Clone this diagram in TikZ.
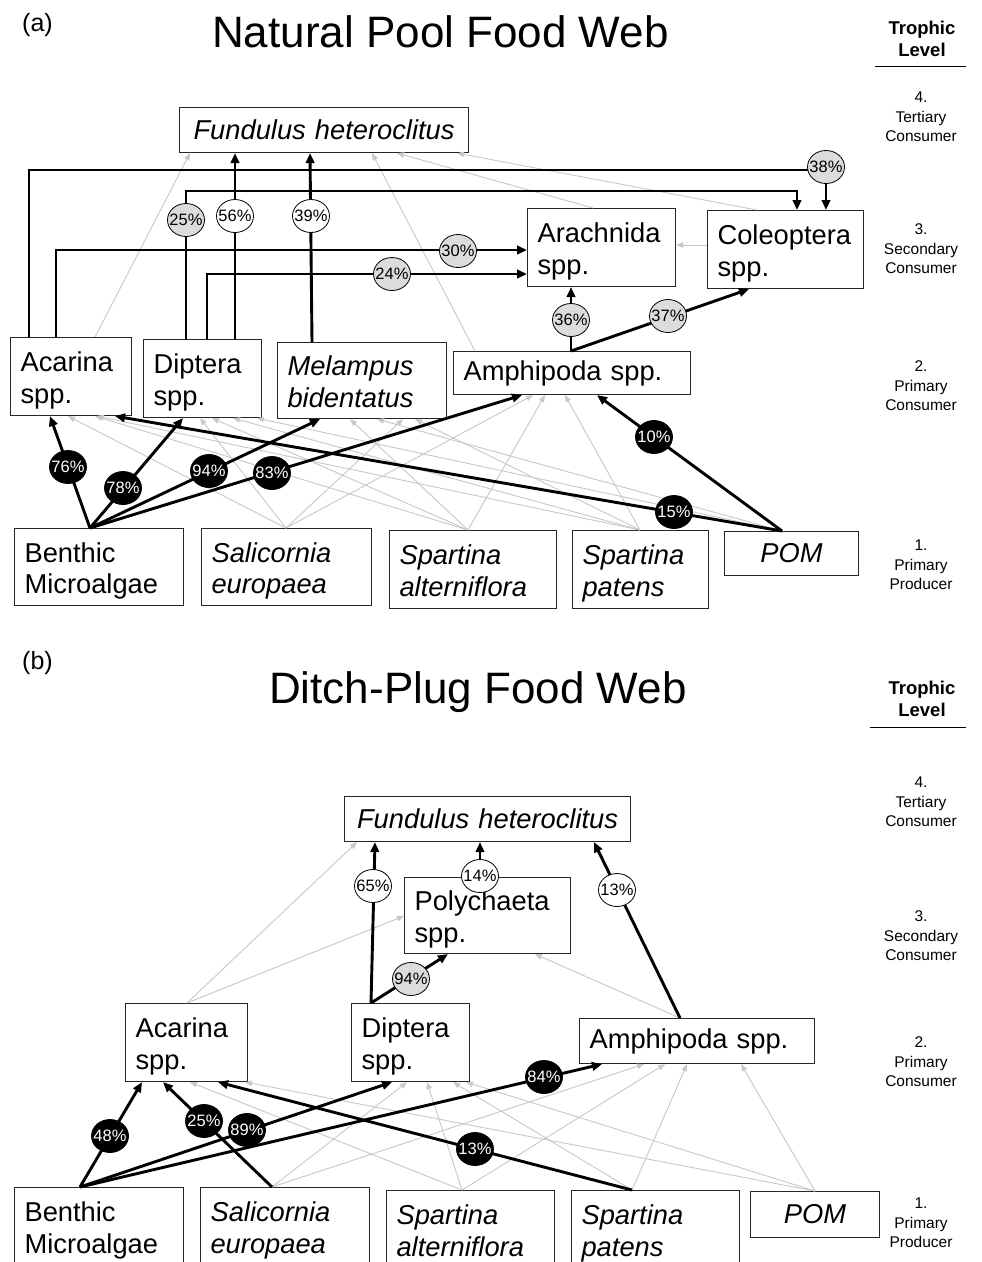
\documentclass[tikz,border=0pt]{standalone}
\usepackage{fontspec}
\setmainfont{Liberation Sans}
\usetikzlibrary{arrows.meta,shapes.geometric}
\definecolor{lgray}{HTML}{C8C8C8}
\definecolor{pctgray}{HTML}{DCDCDC}
\newcommand\fBox{\fontsize{27.3}{31.5}\selectfont}
\newcommand\fPct{\fontsize{16.5}{18}\selectfont}
\newcommand\fTitle{\fontsize{44}{50}\selectfont}
\newcommand\fTag{\fontsize{25}{28}\selectfont}
\newcommand\fTL{\fontsize{15.5}{19.5}\selectfont}
\newcommand\fTLb{\fontsize{18.5}{22}\selectfont\bfseries}
\newcommand\Tup{\rule{0pt}{28pt}}
\newcommand\Tdn{\rule[-6pt]{0pt}{6pt}}
\tikzset{
  box/.style={draw=black!85, line width=1.1pt, anchor=north west, inner xsep=10pt, inner ysep=0pt, font=\fBox, align=left},
  boxc/.style={box, align=center},
  pct/.style={ellipse, draw, line width=0.8pt, inner sep=0pt, minimum width=37pt, minimum height=33pt, font=\fPct},
  pw/.style={pct, fill=white},
  pg/.style={pct, fill=pctgray},
  pb/.style={pct, fill=black, text=white},
  blk/.style={line width=2.9pt, -{Triangle[length=10pt,width=8.5pt]}},
  gry/.style={draw=lgray, line width=0.9pt, -{Triangle[length=7pt,width=5.5pt]}},
  tl/.style={font=\fTL, align=center, inner sep=0pt},
  tlh/.style={font=\fTLb, align=center, inner sep=0pt},
  ttl/.style={font=\fTitle, anchor=base west, inner sep=0pt},
  tag/.style={font=\fTag, anchor=base west, inner sep=0pt}
}
\newcommand\pc[1]{\makebox[0pt][c]{#1\%}}
\begin{document}
\begin{tikzpicture}[x=1pt,y=-1pt]
\useasboundingbox (0,0) rectangle (982,1262);
\fill[white] (0,0) rectangle (982,1262);

%================ PANEL (a) =================
\node[tag] (tagA) at (22,31) {(a)};
\node[ttl] (ttlA) at (212,47) {Natural Pool Food Web};
\node[tlh] (hA) at (922,39) {Trophic\\Level};
\coordinate (rAl) at (875,66); \coordinate (rAr) at (966,66);
\draw[line width=0.9pt] (rAl) -- (rAr);
\node[tl] (t4a) at (921,117) {4.\\Tertiary\\Consumer};
\node[tl] (t3a) at (921,249) {3.\\Secondary\\Consumer};
\node[tl] (t2a) at (921,386) {2.\\Primary\\Consumer};
\node[tl] (t1a) at (921,565) {1.\\Primary\\Producer};

% boxes
\node[boxc, minimum width=289, minimum height=45, text width=269] (fA) at (179,107) {\itshape Fundulus heteroclitus};
\node[box, minimum width=148, minimum height=78, text width=128] (arA) at (527,208) {\Tup Arachnida\\spp.\Tdn};
\node[box, minimum width=156, minimum height=78, text width=136] (coA) at (707,210) {\Tup Coleoptera\\spp.\Tdn};
\node[box, minimum width=121, minimum height=78, text width=101] (acA) at (10,337) {\Tup Acarina\\spp.\Tdn};
\node[box, minimum width=118, minimum height=78, text width=98] (diA) at (143,339) {\Tup Diptera\\spp.\Tdn};
\node[box, minimum width=169, minimum height=76, text width=149] (meA) at (277,342) {\itshape\Tup Melampus\\\itshape bidentatus\Tdn};
\node[box, minimum width=237, minimum height=43, text width=217] (amA) at (453,351) {Amphipoda spp.};
\node[box, minimum width=169, minimum height=77, text width=149] (beA) at (14,528) {\Tup Benthic\\Microalgae\Tdn};
\node[box, minimum width=170, minimum height=77, text width=150] (saA) at (201,528) {\itshape\Tup Salicornia\\\itshape europaea\Tdn};
\node[box, minimum width=167, minimum height=78, text width=147] (spA) at (389,530) {\itshape\Tup Spartina\\\itshape alterniflora\Tdn};
\node[box, minimum width=136, minimum height=78, text width=116] (ppA) at (572,530) {\itshape\Tup Spartina\\\itshape patens\Tdn};
\node[boxc, minimum width=134, minimum height=44, text width=114] (poA) at (724,531) {\itshape POM};

% gray links producers -> consumers
\draw[gry] (saA.north -| 286,0) -- (acA.south -| 68,0);
\draw[gry] (saA.north -| 286,0) -- (diA.south -| 200,0);
\draw[gry] (saA.north -| 286,0) -- (meA.south -| 403,0);
\draw[gry] (saA.north -| 286,0) -- (amA.south -| 533,0);
\draw[gry] (spA.north -| 468,0) -- (acA.south -| 95,0);
\draw[gry] (spA.north -| 468,0) -- (diA.south -| 212,0);
\draw[gry] (spA.north -| 468,0) -- (meA.south -| 350,0);
\draw[gry] (spA.north -| 468,0) -- (amA.south -| 545,0);
\draw[gry] (ppA.north -| 640,0) -- (acA.south -| 97,0);
\draw[gry] (ppA.north -| 640,0) -- (diA.south -| 233,0);
\draw[gry] (ppA.north -| 640,0) -- (meA.south -| 415,0);
\draw[gry] (ppA.north -| 640,0) -- (amA.south -| 565,0);
\draw[gry] (poA.north -| 782,0) -- (diA.south -| 257,0);
\draw[gry] (poA.north -| 782,0) -- (meA.south -| 377,0);
% gray links to top
\draw[gry] (acA.north -| 95,0) -- (fA.south -| 190,0);
\draw[gry] (amA.north -| 475,0) -- (fA.south -| 372,0);
\draw[gry] (arA.north -| 593,0) -- (fA.south -| 397,0);
\draw[gry] (coA.north -| 757,0) -- (fA.south -| 457,0);
\draw[gry] (coA.west |- 0,245) -- (arA.east |- 0,245);

% black links
\draw[blk] (acA.north -| 29,0) |- (826,170) -- (coA.north -| 826,0);
\draw[blk] (diA.north -| 186,0) |- (797,191) -- (coA.north -| 797,0);
\draw[blk] (acA.north -| 56,0) |- (arA.west |- 0,250);
\draw[blk] (diA.north -| 207,0) |- (arA.west |- 0,274);
\draw[blk] (diA.north -| 235,0) -- (fA.south -| 235,0);
\draw[blk] (meA.north -| 312,0) -- (fA.south -| 310,0);
\draw[blk] (amA.north -| 571,0) -- (arA.south -| 571,0);
\draw[blk] (amA.north -| 571,0) -- (coA.south -| 749,0);
\draw[blk] (beA.north -| 90,0) -- (acA.south -| 50,0);
\draw[blk] (beA.north -| 90,0) -- (diA.south -| 183,0);
\draw[blk] (beA.north -| 90,0) -- (meA.south -| 320,0);
\draw[blk] (beA.north -| 90,0) -- (amA.south -| 522,0);
\draw[blk] (poA.north -| 782,0) -- (acA.south -| 115,0);
\draw[blk] (poA.north -| 782,0) -- (amA.south -| 597,0);

% labels
\node[pg] (l38) at (826,167) {\pc{38}};
\node[pg] (l25) at (186,220) {\pc{25}};
\node[pw] (l56) at (235,216) {\pc{56}};
\node[pw] (l39) at (311,216) {\pc{39}};
\node[pg] (l30) at (458,251) {\pc{30}};
\node[pg] (l24) at (392,274) {\pc{24}};
\node[pg] (l36) at (571,320) {\pc{36}};
\node[pg] (l37) at (668,316) {\pc{37}};
\node[pb] (l76) at (68,467) {\pc{76}};
\node[pb] (l78) at (123,488) {\pc{78}};
\node[pb] (l94) at (209,471) {\pc{94}};
\node[pb] (l83) at (272,473) {\pc{83}};
\node[pb] (l15) at (674,512) {\pc{15}};
\node[pb] (l10) at (654,437) {\pc{10}};

%================ PANEL (b) =================
\node[tag] (tagB) at (22,669) {(b)};
\node[ttl] (ttlB) at (269,703) {Ditch-Plug Food Web};
\node[tlh] (hB) at (922,699) {Trophic\\Level};
\coordinate (rBl) at (870,727); \coordinate (rBr) at (966,727);
\draw[line width=0.9pt] (rBl) -- (rBr);
\node[tl] (t4b) at (921,802) {4.\\Tertiary\\Consumer};
\node[tl] (t3b) at (921,936) {3.\\Secondary\\Consumer};
\node[tl] (t2b) at (921,1062) {2.\\Primary\\Consumer};
\node[tl] (t1b) at (921,1223) {1.\\Primary\\Producer};

\node[boxc, minimum width=286, minimum height=45, text width=266] (fB) at (344,796) {\itshape Fundulus heteroclitus};
\node[box, minimum width=166, minimum height=76, text width=146] (plB) at (404,877) {\Tup Polychaeta\\spp.\Tdn};
\node[box, minimum width=122, minimum height=78, text width=102] (acB) at (125,1003) {\Tup Acarina\\spp.\Tdn};
\node[box, minimum width=118, minimum height=78, text width=98] (diB) at (351,1003) {\Tup Diptera\\spp.\Tdn};
\node[box, minimum width=235, minimum height=45, text width=215] (amB) at (579,1018) {Amphipoda spp.};
\node[box, minimum width=169, minimum height=78, text width=149] (beB) at (14,1187) {\Tup Benthic\\Microalgae\Tdn};
\node[box, minimum width=169, minimum height=78, text width=149] (saB) at (200,1187) {\itshape\Tup Salicornia\\\itshape europaea\Tdn};
\node[box, minimum width=168, minimum height=78, text width=148] (spB) at (386,1190) {\itshape\Tup Spartina\\\itshape alterniflora\Tdn};
\node[box, minimum width=168, minimum height=78, text width=148] (ppB) at (571,1190) {\itshape\Tup Spartina\\\itshape patens\Tdn};
\node[boxc, minimum width=129, minimum height=46, text width=109] (poB) at (750,1191) {\itshape POM};

% gray links
\draw[gry] (spB.north -| 462,0) -- (acB.south -| 190,0);
\draw[gry] (poB.north -| 815,0) -- (acB.south -| 245,0);
\draw[gry] (saB.north -| 272,0) -- (diB.south -| 407,0);
\draw[gry] (spB.north -| 462,0) -- (diB.south -| 427,0);
\draw[gry] (ppB.north -| 632,0) -- (diB.south -| 453,0);
\draw[gry] (poB.north -| 815,0) -- (diB.south -| 466,0);
\draw[gry] (saB.north -| 272,0) -- (amB.south -| 644,0);
\draw[gry] (spB.north -| 462,0) -- (amB.south -| 665,0);
\draw[gry] (ppB.north -| 632,0) -- (amB.south -| 687,0);
\draw[gry] (poB.north -| 815,0) -- (amB.south -| 741,0);
\draw[gry] (acB.north -| 187,0) -- (fB.south -| 357,0);
\draw[gry] (acB.north -| 187,0) -- (plB.west |- 0,916);
\draw[gry] (amB.north -| 680,0) -- (plB.south -| 535,0);

% black links
\draw[blk] (diB.north -| 371,0) -- (fB.south -| 375,0);
\draw[blk] (diB.north -| 371,0) -- (plB.south -| 448,0);
\draw[blk] (plB.north -| 480,0) -- (fB.south -| 480,0);
\draw[blk] (amB.north -| 680,0) -- (fB.south -| 594,0);
\draw[blk] (beB.north -| 80,0) -- (acB.south -| 142,0);
\draw[blk] (saB.north -| 272,0) -- (acB.south -| 163,0);
\draw[blk] (beB.north -| 80,0) -- (diB.south -| 392,0);
\draw[blk] (beB.north -| 80,0) -- (amB.south -| 602,0);
\draw[blk] (ppB.north -| 632,0) -- (acB.south -| 218,0);

% labels
\node[pw] (m65) at (373,886) {\pc{65}};
\node[pg] (m94) at (411,979) {\pc{94}};
\node[pw] (m14) at (480,876) {\pc{14}};
\node[pw] (m13w) at (617,890) {\pc{13}};
\node[pb] (m48) at (110,1136) {\pc{48}};
\node[pb] (m25) at (204,1121) {\pc{25}};
\node[pb] (m89) at (247,1130) {\pc{89}};
\node[pb] (m84) at (544,1077) {\pc{84}};
\node[pb] (m13b) at (475,1149) {\pc{13}};
\end{tikzpicture}
\end{document}
